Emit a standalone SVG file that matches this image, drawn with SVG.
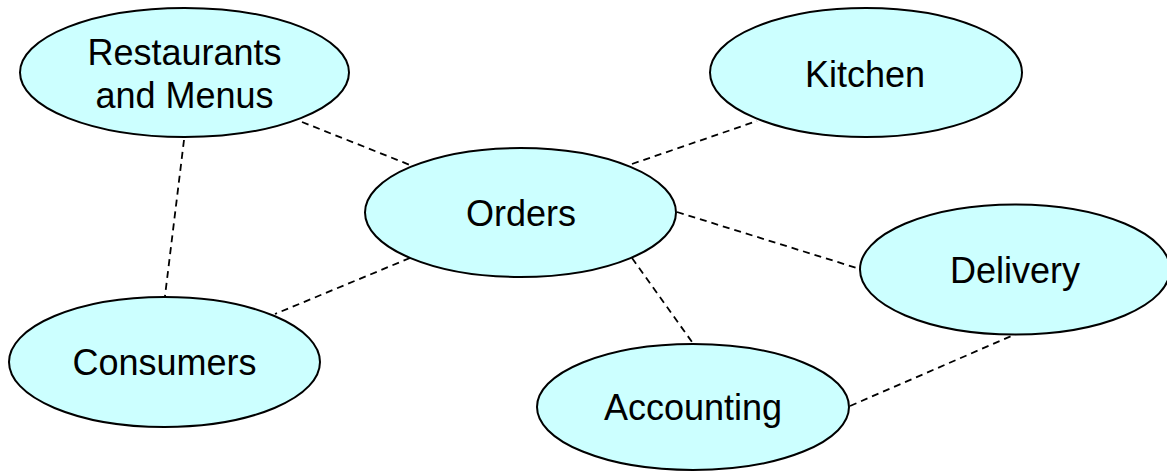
<svg xmlns="http://www.w3.org/2000/svg" width="1167" height="471" viewBox="0 0 1167 471">
<style>
.node ellipse{fill:#CCFFFF;stroke:#000;stroke-width:2}
.node text{font-family:"Liberation Sans",Arial,sans-serif;font-size:36px;fill:#000;text-anchor:middle}
.conn line{stroke:#000;stroke-width:1.8;stroke-dasharray:7 5;fill:none}
</style>
<rect width="1167" height="471" fill="#fff"/>
<g id="connectors" class="conn">
<line x1="302" y1="122" x2="410" y2="165"/>
<line x1="184" y1="140" x2="165" y2="296"/>
<line x1="410" y1="258" x2="275" y2="314"/>
<line x1="632" y1="164" x2="757" y2="121"/>
<line x1="677" y1="212" x2="860" y2="269"/>
<line x1="632" y1="258" x2="692" y2="342"/>
<line x1="850" y1="406" x2="1016" y2="334"/>
</g>
<g id="restaurants" class="node">
<ellipse cx="184.5" cy="72.5" rx="164.5" ry="64.5"/>
<text x="184.5" y="65">Restaurants</text>
<text x="184.5" y="108">and Menus</text>
</g>
<g id="kitchen" class="node">
<ellipse cx="866" cy="72.5" rx="156" ry="64.5"/>
<text x="865" y="87">Kitchen</text>
</g>
<g id="orders" class="node">
<ellipse cx="520.5" cy="212.5" rx="155.5" ry="64.5"/>
<text x="521" y="226">Orders</text>
</g>
<g id="delivery" class="node">
<ellipse cx="1015" cy="269.5" rx="155" ry="65"/>
<text x="1015" y="283">Delivery</text>
</g>
<g id="consumers" class="node">
<ellipse cx="164.5" cy="362" rx="155.5" ry="65"/>
<text x="164.5" y="375">Consumers</text>
</g>
<g id="accounting" class="node">
<ellipse cx="693" cy="407" rx="156" ry="63"/>
<text x="693" y="420">Accounting</text>
</g>
</svg>
